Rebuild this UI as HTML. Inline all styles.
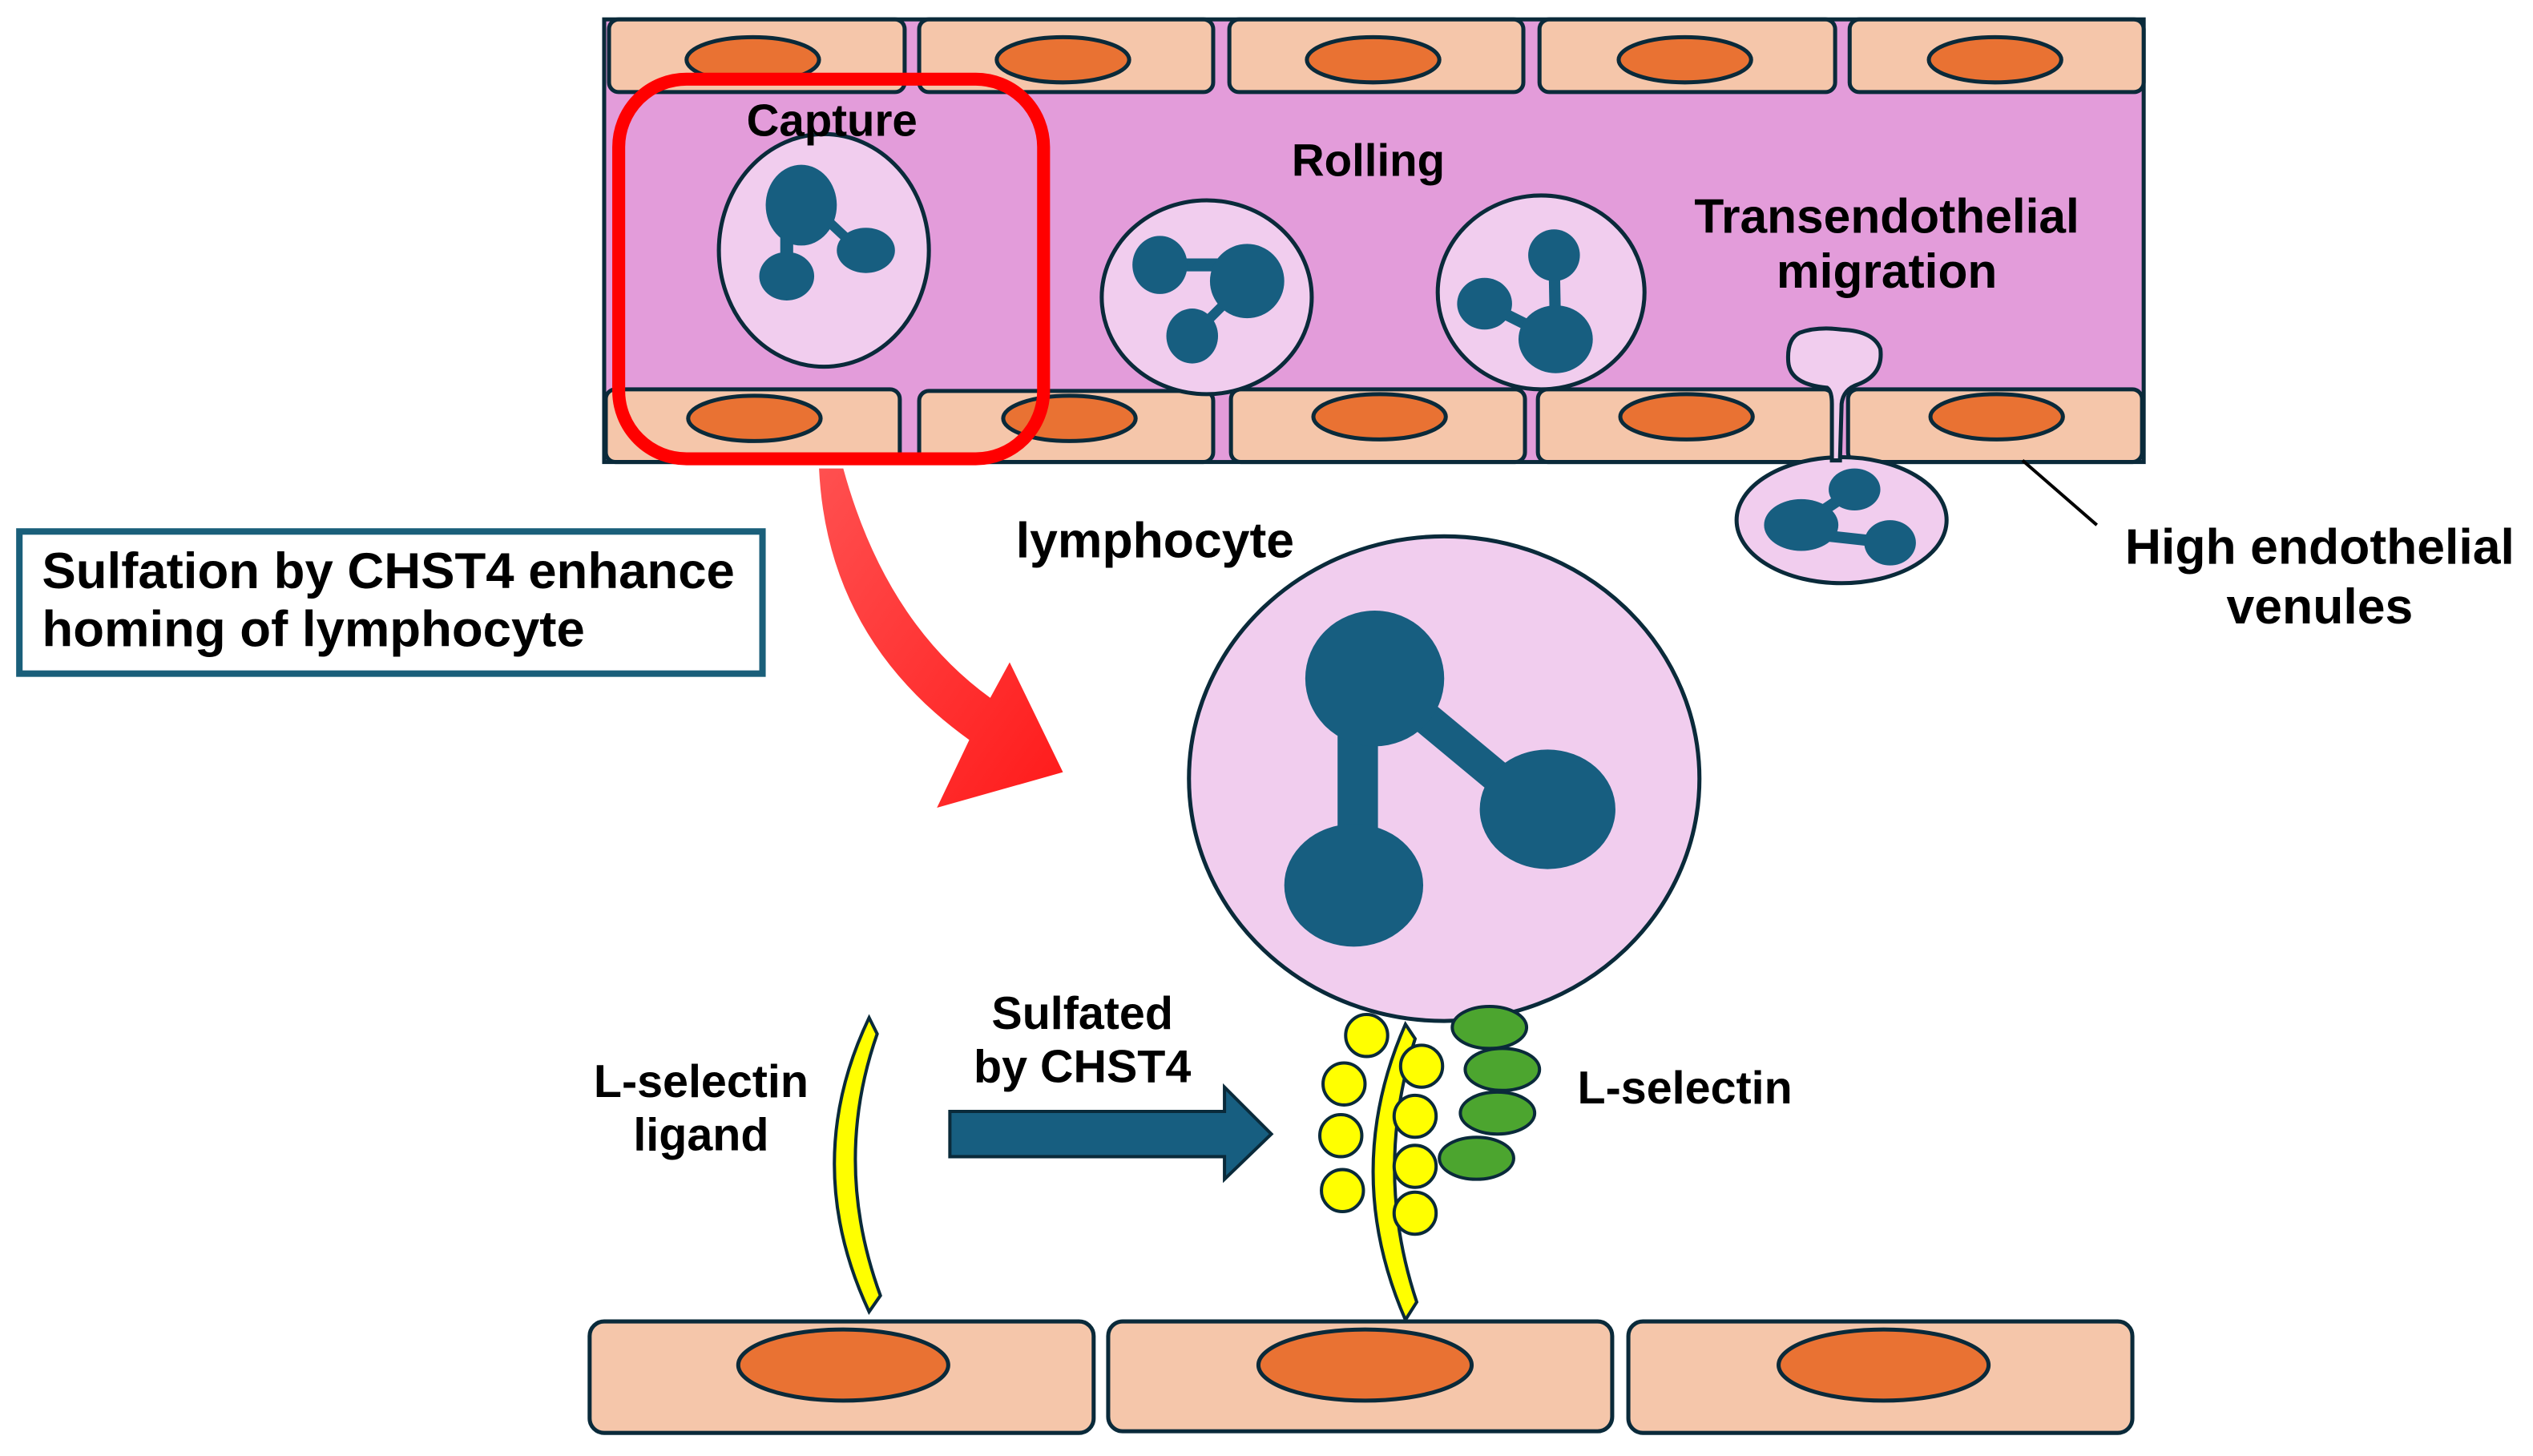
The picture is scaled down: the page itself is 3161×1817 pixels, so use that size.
<!DOCTYPE html>
<html><head><meta charset="utf-8"><style>
html,body{margin:0;padding:0;background:#fff;}
svg{display:block;}
text{font-family:"Liberation Sans",sans-serif;font-weight:bold;fill:#000;}
</style></head><body>
<svg width="3161" height="1817" viewBox="0 0 1568 901.3" preserveAspectRatio="none" xmlns="http://www.w3.org/2000/svg">
<defs>
<linearGradient id="rg" x1="0" y1="0" x2="1" y2="1"><stop offset="0" stop-color="#ff5050"/><stop offset="1" stop-color="#ff1a1a"/></linearGradient>
</defs>
<g stroke="#0a2a3a" stroke-width="2.5">
<rect x="374" y="12" width="953" height="274" fill="#e39cda"/>
<g fill="#f5c6aa">
<rect x="377" y="12" width="183" height="45" rx="6"/>
<rect x="569" y="12" width="182" height="45" rx="6"/>
<rect x="761" y="12" width="182" height="45" rx="6"/>
<rect x="953" y="12" width="183" height="45" rx="6"/>
<rect x="1145" y="12" width="182" height="45" rx="6"/>
<rect x="375" y="241" width="182" height="45" rx="6"/>
<rect x="569" y="242" width="182" height="44" rx="6"/>
<rect x="762" y="241" width="182" height="45" rx="6"/>
<rect x="952" y="241" width="183" height="45" rx="6"/>
<rect x="1144" y="241" width="182" height="45" rx="6"/>
</g>
<g fill="#e97233">
<ellipse cx="466" cy="37" rx="41" ry="14"/>
<ellipse cx="658" cy="37" rx="41" ry="14"/>
<ellipse cx="850" cy="37" rx="41" ry="14"/>
<ellipse cx="1043" cy="37" rx="41" ry="14"/>
<ellipse cx="1235" cy="37" rx="41" ry="14"/>
<ellipse cx="467" cy="259" rx="41" ry="14"/>
<ellipse cx="662" cy="259" rx="41" ry="14"/>
<ellipse cx="854" cy="258" rx="41" ry="14"/>
<ellipse cx="1044" cy="258" rx="41" ry="14"/>
<ellipse cx="1236" cy="258" rx="41" ry="14"/>
</g>
<g fill="#f1cdee">
<ellipse cx="510" cy="155" rx="65" ry="72"/>
<ellipse cx="747" cy="184" rx="65" ry="60"/>
<ellipse cx="954" cy="181" rx="64" ry="60"/>
<ellipse cx="1140" cy="322" rx="65" ry="39"/>
<path d="M1131,240 Q1108,238 1107,224 Q1106,210 1114,206 Q1125,202 1140,204 Q1160,205 1164,216 Q1166,232 1150,238 Q1141,241 1140,250 L1139,285 L1134,285 L1134,250 Q1134,242 1131,240 Z"/>
</g>
</g>
<g fill="#175e80" stroke="#175e80">
<line x1="487" y1="130" x2="487" y2="165" stroke-width="8"/>
<line x1="500" y1="125" x2="532" y2="155" stroke-width="6"/>
<ellipse cx="496" cy="127" rx="22" ry="25" stroke="none"/>
<ellipse cx="487" cy="171" rx="17" ry="15" stroke="none"/>
<ellipse cx="536" cy="155" rx="18" ry="14" stroke="none"/>
<line x1="718" y1="164" x2="772" y2="164" stroke-width="8"/>
<line x1="772" y1="174" x2="738" y2="208" stroke-width="6"/>
<ellipse cx="718" cy="164" rx="17" ry="18" stroke="none"/>
<ellipse cx="772" cy="174" rx="23" ry="23" stroke="none"/>
<ellipse cx="738" cy="208" rx="16" ry="17" stroke="none"/>
<line x1="962" y1="158" x2="963" y2="210" stroke-width="7"/>
<line x1="919" y1="188" x2="963" y2="210" stroke-width="7"/>
<ellipse cx="962" cy="158" rx="16" ry="16" stroke="none"/>
<ellipse cx="963" cy="210" rx="23" ry="21" stroke="none"/>
<ellipse cx="919" cy="188" rx="17" ry="16" stroke="none"/>
<line x1="1148" y1="303" x2="1115" y2="325" stroke-width="7"/>
<line x1="1115" y1="330" x2="1170" y2="336" stroke-width="7"/>
<ellipse cx="1148" cy="303" rx="16" ry="13" stroke="none"/>
<ellipse cx="1115" cy="325" rx="23" ry="16" stroke="none"/>
<ellipse cx="1170" cy="336" rx="16" ry="14" stroke="none"/>
</g>
<rect x="383" y="49" width="263" height="235" rx="42" fill="none" stroke="#ff0000" stroke-width="8"/>
<line x1="1252" y1="285" x2="1298" y2="325" stroke="#000" stroke-width="2"/>
<text x="515" y="84" font-size="28" text-anchor="middle">Capture</text>
<text x="847" y="109" font-size="28" text-anchor="middle">Rolling</text>
<text x="1168" y="144" font-size="30" text-anchor="middle">Transendothelial</text>
<text x="1168" y="178" font-size="30" text-anchor="middle">migration</text>
<text x="715" y="345" font-size="31" text-anchor="middle">lymphocyte</text>
<text x="1436" y="349" font-size="31" text-anchor="middle">High endothelial</text>
<text x="1436" y="386" font-size="31" text-anchor="middle">venules</text>
<rect x="12" y="329" width="460" height="88" fill="#fff" stroke="#1a5f7a" stroke-width="4"/>
<text x="26" y="364" font-size="31.5">Sulfation by CHST4 enhance</text>
<text x="26" y="400" font-size="31.5">homing of lymphocyte</text>
<path d="M507,290 Q512,395 600,458 L580,500 L658,478 L625,410 L613,432 Q548,385 522,290 Z" fill="url(#rg)"/>
<ellipse cx="894" cy="482" rx="158" ry="150" fill="#f1cdee" stroke="#0a2a3a" stroke-width="2.5"/>
<g fill="#175e80" stroke="#175e80">
<rect x="828" y="430" width="25" height="100" stroke="none"/>
<line x1="875" y1="438" x2="940" y2="492" stroke-width="20"/>
<ellipse cx="851" cy="420" rx="43" ry="42" stroke="none"/>
<ellipse cx="958" cy="501" rx="42" ry="37" stroke="none"/>
<ellipse cx="838" cy="548" rx="43" ry="38" stroke="none"/>
</g>
<g stroke="#0a2a3a" stroke-width="2.5">
<g fill="#f5c6aa">
<rect x="365" y="818" width="312" height="69" rx="9"/>
<rect x="686" y="818" width="312" height="68" rx="9"/>
<rect x="1008" y="818" width="312" height="69" rx="9"/>
</g>
<g fill="#e97233">
<ellipse cx="522" cy="845" rx="65" ry="22"/>
<ellipse cx="845" cy="845" rx="66" ry="22"/>
<ellipse cx="1166" cy="845" rx="65" ry="22"/>
</g>
<g fill="#ffff00" stroke-width="2">
<path d="M538,630 Q495,720 538,812 L545,802 Q515,720 543,640 Z"/>
<path d="M870,634 Q830,725 870,817 L877,806 Q850,725 876,643 Z"/>
<circle cx="846" cy="641" r="13"/>
<circle cx="880" cy="660" r="13"/>
<circle cx="832" cy="671" r="13"/>
<circle cx="876" cy="691" r="13"/>
<circle cx="830" cy="703" r="13"/>
<circle cx="876" cy="722" r="13"/>
<circle cx="831" cy="737" r="13"/>
<circle cx="876" cy="751" r="13"/>
</g>
<g fill="#4ca52f" stroke-width="2">
<ellipse cx="922" cy="636" rx="23" ry="13"/>
<ellipse cx="930" cy="662" rx="23" ry="13"/>
<ellipse cx="927" cy="689" rx="23" ry="13"/>
<ellipse cx="914" cy="717" rx="23" ry="13"/>
</g>
<polygon points="588,688 758,688 758,673 787,702 758,730 758,716 588,716" fill="#175e80" stroke-width="2"/>
</g>
<text x="434" y="679" font-size="28.5" text-anchor="middle">L-selectin</text>
<text x="434" y="712" font-size="28.5" text-anchor="middle">ligand</text>
<text x="670" y="637" font-size="28.5" text-anchor="middle">Sulfated</text>
<text x="670" y="670" font-size="28.5" text-anchor="middle">by CHST4</text>
<text x="1043" y="683" font-size="28.5" text-anchor="middle">L-selectin</text>
</svg>
</body></html>
